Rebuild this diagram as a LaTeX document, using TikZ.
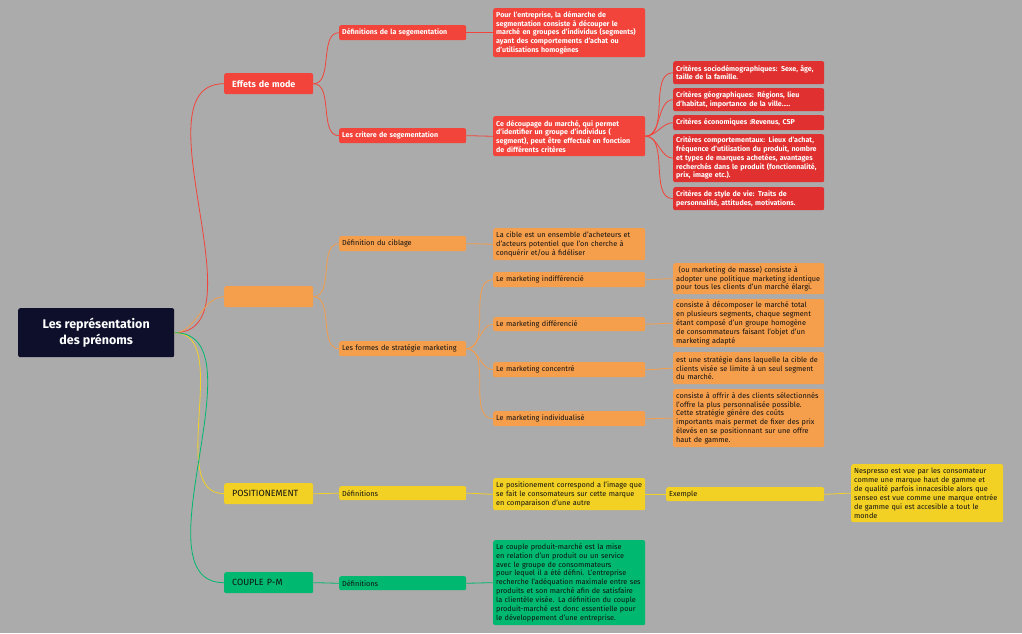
\documentclass[tikz,border=0pt]{standalone}
\usepackage{fontspec}
\setmainfont{Fira Sans}
\hyphenpenalty=10000 \exhyphenpenalty=10000
\definecolor{bg}{HTML}{ABABAB}
\definecolor{navy}{HTML}{0D0F2B}
\definecolor{rd}{HTML}{F2443B}
\definecolor{rd2}{HTML}{E0302F}
\definecolor{org}{HTML}{F59E4C}
\definecolor{yel}{HTML}{F2D024}
\definecolor{grn}{HTML}{00B86F}
\definecolor{dk}{HTML}{111111}
\tikzset{
 bxs/.style={rounded corners=2pt,inner xsep=3pt,inner ysep=1pt,align=left,font=\fontsize{7.3}{8.9}\selectfont},
 rbox/.style={bxs,fill=rd,text=white,font=\bfseries\fontsize{7.1}{8.7}\selectfont},
 rbox2/.style={rbox,fill=rd2},
 obox/.style={bxs,fill=org,text=dk},
 ybox/.style={bxs,fill=yel,text=dk},
 gbox/.style={bxs,fill=grn,text=dk},
 l1/.style={anchor=north west,minimum width=89pt,minimum height=21pt,inner xsep=8pt,align=left,text width=73pt,font=\fontsize{9}{10}\selectfont},
 lk/.style={line width=0.8pt,out=0,in=180,looseness=0.9},
}
\newcommand\bx[7]{\pgfmathsetmacro\ww{#4-#2}\pgfmathsetmacro\hh{#5-#3}\pgfmathsetmacro\tw{#4-#2-6}%
\node[#6,anchor=north west,minimum width=\ww pt,minimum height=\hh pt,text width=\tw pt] (#1) at (#2,#3) {#7};}
\begin{document}
\begin{tikzpicture}[x=1pt,y=-1pt]
\fill[bg] (0,0) rectangle (1022,633);
\useasboundingbox (0,0) rectangle (1022,633);
\node[rounded corners=2pt,fill=navy,text=white,minimum width=156pt,minimum height=49pt,align=center,font=\bfseries\fontsize{12.5}{16}\selectfont,anchor=north west] (root) at (18,308) {Les représentation\\des prénoms};
% level 1
\node[rbox,l1,font=\bfseries\fontsize{9}{10}\selectfont] (l1a) at (224,73) {Effets de mode};
\node[obox,l1] (l1b) at (224,286) {};
\node[ybox,l1] (l1c) at (224,483) {POSITIONEMENT};
\node[gbox,l1] (l1d) at (224,572) {COUPLE P-M};
% red
\bx{ra}{339}{25}{466}{40}{rbox}{Définitions de la segementation}
\bx{rb}{339}{128}{466}{143}{rbox}{Les critere de segementation}
\bx{rat}{493}{8}{645}{57}{rbox}{Pour l'entreprise, la démarche de segmentation consiste à découper le marché en groupes d'individus (segments) ayant des comportements d'achat ou d'utilisations homogènes}
\bx{rbt}{493}{116}{645}{156}{rbox}{Ce découpage du marché, qui permet d'identifier un groupe d'individus ( segment), peut être effectué en fonction de différents critères}
\bx{c1}{673}{61}{824}{84}{rbox2}{Critères sociodémographiques: Sexe, âge, taille de la famille.}
\bx{c2}{673}{88}{824}{111}{rbox2}{Critères géographiques: Régions, lieu d'habitat, importance de la ville.....}
\bx{c3}{673}{115}{824}{130}{rbox2}{Critères économiques :Revenus, CSP}
\bx{c4}{673}{134}{824}{182}{rbox2}{Critères comportementaux: Lieux d'achat, fréquence d'utilisation du produit, nombre et types de marques achetées, avantages recherchés dans le produit (fonctionnalité, prix, image etc.).}
\bx{c5}{673}{187}{824}{210}{rbox2}{Critères de style de vie: Traits de personnalité, attitudes, motivations.}
% orange
\bx{oa}{339}{236}{466}{251}{obox}{Définition du ciblage}
\bx{ob}{339}{341}{466}{356}{obox}{Les formes de stratégie marketing}
\bx{oat}{493}{228}{645}{260}{obox}{La cible est un ensemble d'acheteurs et d'acteurs potentiel que l'on cherche à conquérir et/ou à fidéliser}
\bx{m1}{493}{272}{645}{287}{obox}{Le marketing indifférencié}
\bx{m2}{493}{317}{645}{331}{obox}{Le marketing différencié}
\bx{m3}{493}{362}{645}{377}{obox}{Le marketing concentré}
\bx{m4}{493}{411}{645}{426}{obox}{Le marketing individualisé}
\bx{d1}{673}{263}{824}{294}{obox}{\ (ou marketing de masse) consiste à adopter une politique marketing identique pour tous les clients d'un marché élargi.}
\bx{d2}{673}{299}{824}{347}{obox}{consiste à décomposer le marché total en plusieurs segments, chaque segment étant composé d'un groupe homogène de consommateurs faisant l'objet d'un marketing adapté}
\bx{d3}{673}{352}{824}{384}{obox}{est une stratégie dans laquelle la cible de clients visée se limite à un seul segment du marché.}
\bx{d4}{673}{389}{824}{447}{obox}{consiste à offrir à des clients sélectionnés l'offre la plus personnalisée possible. Cette stratégie génère des coûts importants mais permet de fixer des prix élevés en se positionnant sur une offre haut de gamme.}
% yellow
\bx{ya}{339}{486}{466}{500}{ybox}{Définitions}
\bx{yat}{493}{478}{645}{510}{ybox}{Le positionement correspond a l'image que se fait le consomateurs sur cette marque en comparaison d'une autre}
\bx{ye}{666}{487}{824}{501}{ybox}{Exemple}
\bx{yn}{851}{464}{1003}{522}{ybox}{Nespresso est vue par les consomateur comme une marque haut de gamme et de qualité parfois innacesible alors que senseo est vue comme une marque entrée de gamme qui est accesible a tout le monde}
% green
\bx{ga}{339}{576}{466}{590}{gbox}{Définitions}
\bx{gat}{493}{540}{645}{625}{gbox}{Le couple produit-marché est la mise en relation d'un produit ou un service avec le groupe de consommateurs pour lequel il a été défini. L'entreprise recherche l'adéquation maximale entre ses produits et son marché afin de satisfaire la clientèle visée. La définition du couple produit-marché est donc essentielle pour le développement d'une entreprise.}
% links
\draw[lk,rd] (root.east) to (l1a.west);
\draw[lk,org] (root.east) to (l1b.west);
\draw[lk,yel] (root.east) to (l1c.west);
\draw[lk,grn] (root.east) to (l1d.west);
\foreach \a/\b in {l1a/ra,l1a/rb,ra/rat,rb/rbt,rbt/c1,rbt/c2,rbt/c3,rbt/c4,rbt/c5} \draw[lk,rd] (\a.east) to (\b.west);
\foreach \a/\b in {l1b/oa,l1b/ob,oa/oat,ob/m1,ob/m2,ob/m3,ob/m4,m1/d1,m2/d2,m3/d3,m4/d4} \draw[lk,org] (\a.east) to (\b.west);
\foreach \a/\b in {l1c/ya,ya/yat,yat/ye,ye/yn} \draw[lk,yel] (\a.east) to (\b.west);
\foreach \a/\b in {l1d/ga,ga/gat} \draw[lk,grn] (\a.east) to (\b.west);
\end{tikzpicture}
\end{document}
